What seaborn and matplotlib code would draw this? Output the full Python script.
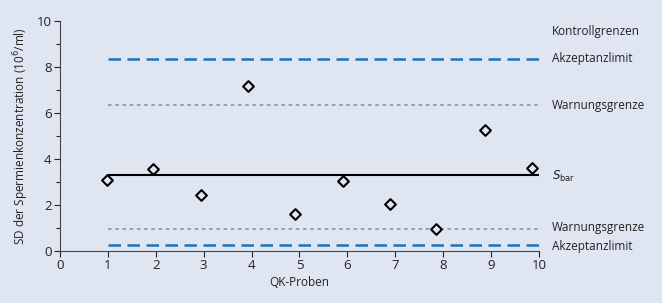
import matplotlib
matplotlib.use("Agg")
import matplotlib.pyplot as plt
import seaborn as sns
import pandas as pd

# QK samples (positions)
proben = [0.98, 1.94, 2.94, 3.92, 4.90, 5.90, 6.89, 7.86, 8.87, 9.85]
sd_werte = [3.08, 3.58, 2.43, 7.17, 1.60, 3.04, 2.04, 0.94, 5.25, 3.61]

# control limits
linie_x = [1, 10]
akzeptanz_oben = 8.35
warnung_oben = 6.33
s_bar = 3.28
warnung_unten = 0.95
akzeptanz_unten = 0.27

rechts_labels = ["Kontrollgrenzen", "Akzeptanzlimit", "Warnungsgrenze",
                 r"$\mathit{S}_{\mathrm{bar}}$", "Warnungsgrenze", "Akzeptanzlimit"]
rechts_y = [9.52, 8.35, 6.33, 3.25, 1.0, 0.2]

bg = "#dfe6f2"
blau = "#1a74bb"
grau = "#9a9a9a"

sns.set_style("ticks")
plt.rcParams["font.family"] = ["Open Sans", "DejaVu Sans"]
plt.rcParams["mathtext.fontset"] = "dejavusans"

fig = plt.figure(figsize=(6.62, 3.03), dpi=100, facecolor=bg)
ax = fig.add_axes([0.0906, 0.172, 0.7236, 0.759])
ax.set_facecolor(bg)

df = pd.DataFrame({"x": proben, "y": sd_werte})

for yv, col, dash, lw in [
    (akzeptanz_oben, blau, (5, 2.6), 1.8),
    (warnung_oben, grau, (2, 2), 1.3),
    (s_bar, "black", None, 1.5),
    (warnung_unten, grau, (2, 2), 1.3),
    (akzeptanz_unten, blau, (5, 2.6), 1.8),
]:
    line_df = pd.DataFrame({"x": linie_x, "y": [yv, yv]})
    sns.lineplot(data=line_df, x="x", y="y", color=col, linewidth=lw, ax=ax)
    if dash is not None:
        ax.lines[-1].set_dashes(dash)

sns.scatterplot(data=df, x="x", y="y", marker="D", s=30, facecolor=bg,
                edgecolor="black", linewidth=1.5, ax=ax, zorder=5)

ax.set_xlim(0, 10)
ax.set_ylim(0, 10)
ax.set_xticks(range(0, 11))
ax.set_yticks([0, 2, 4, 6, 8, 10])
ax.set_yticks([1, 3, 5, 7, 9], minor=True)
ax.tick_params(axis="both", labelsize=9.5, colors="#222222", length=4, width=0.8, pad=2)
ax.tick_params(axis="y", which="minor", length=3, width=0.8)
ax.set_xlabel("QK-Proben", fontsize=8.5, color="#222222", labelpad=3)
ax.set_ylabel("SD der Spermienkonzentration (10$^6$/ml)", fontsize=8.5, color="#222222")
for s in ["top", "right"]:
    ax.spines[s].set_visible(False)
for s in ["left", "bottom"]:
    ax.spines[s].set_color("#444444")
    ax.spines[s].set_linewidth(0.8)

for txt, yv in zip(rechts_labels, rechts_y):
    ax.text(1.027, yv, txt, transform=ax.get_yaxis_transform(), fontsize=8.5,
            va="center", ha="left", color="#222222", clip_on=False)

fig.savefig("out.png", dpi=100, facecolor=bg)
